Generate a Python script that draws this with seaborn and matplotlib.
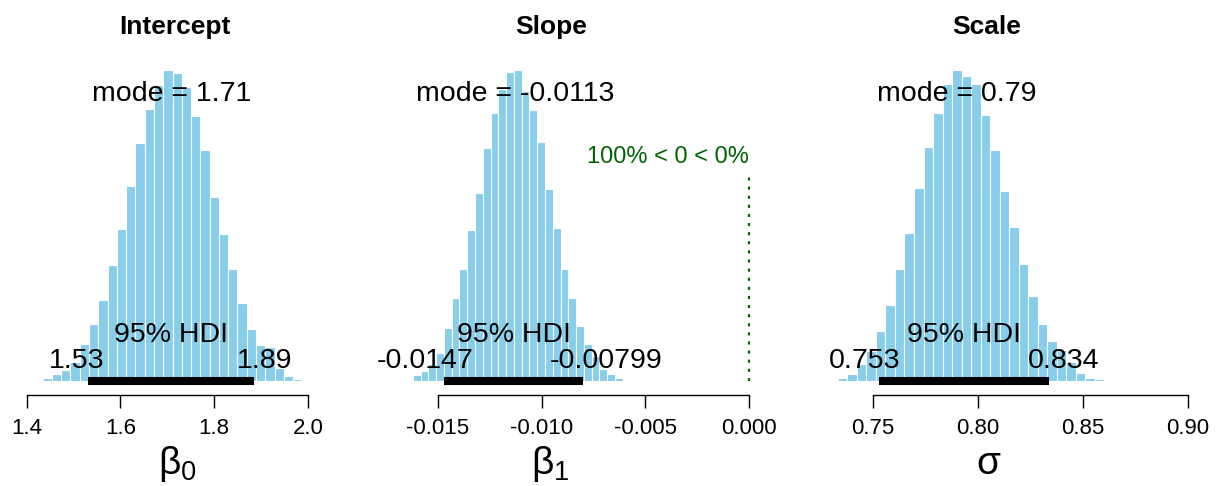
import numpy as np
import pandas as pd
import matplotlib
matplotlib.use("Agg")
import matplotlib.pyplot as plt
import seaborn as sns

# posterior histograms (bin start, bin width, bar heights)
int_start, int_bw = 1.414, 0.0198
int_heights = [1.3, 3.3, 6.7, 11.4, 19, 37.4, 57.4, 81.4, 115.7, 151.7, 194.7, 237.4,
               271.4, 295.7, 310.7, 308, 294, 264.7, 230.7, 184, 146.7, 112.4, 78, 52,
               36, 34, 13, 5, 2]
slope_start, slope_bw = -0.01659, 0.000375
slope_heights = [1, 6, 10, 17, 28, 53.3, 82.7, 111.7, 150.7, 188.3, 232.7, 268.3, 292,
                 308.3, 310.7, 290, 270.7, 239, 192, 153.3, 111.7, 82.7, 55, 36.7, 25,
                 12, 6.7, 2.7]
scale_start, scale_bw = 0.7289, 0.00453
scale_heights = [1, 2.7, 7.3, 17, 30, 50, 75.7, 111.7, 147.3, 192.7, 233.3, 267.7, 296,
                 310, 304, 296, 265, 230, 189, 153.3, 116.7, 84.3, 57, 40, 31, 19, 8,
                 2.5, 1.5]

titles = ["Intercept", "Slope", "Scale"]
xlabels = [r"$\mathregular{β_0}$", r"$\mathregular{β_1}$", "σ"]
modes = ["1.71", "-0.0113", "0.79"]
mode_vals = [1.71, -0.0113, 0.79]
hdi_lo = [1.53, -0.0147, 0.753]
hdi_hi = [1.884, -0.00799, 0.834]
hdi_lo_txt = ["1.53", "-0.0147", "0.753"]
hdi_hi_txt = ["1.89", "-0.00799", "0.834"]
ticks = [[1.4, 1.6, 1.8, 2.0],
         [-0.015, -0.010, -0.005, 0.000],
         [0.75, 0.80, 0.85, 0.90]]
tick_fmt = ["{:.1f}", "{:.3f}", "{:.2f}"]
comp_val = 0.0
comp_txt = "100% < 0 < 0%"

sns.set_style("white")
plt.rcParams["font.family"] = ["Liberation Sans", "DejaVu Sans"]
plt.rcParams["mathtext.fontset"] = "custom"
plt.rcParams["mathtext.rm"] = "Liberation Sans"
plt.rcParams["text.color"] = "black"
plt.rcParams["xtick.color"] = "black"
plt.rcParams["xtick.labelcolor"] = "black"

W, H = 1216, 486
fig = plt.figure(figsize=(W / 100, H / 100), dpi=100)

base_px = 381
# (left px, right px) of each plot region, and tick pixel anchors
regions = [(5, 345), (380, 770), (815, 1205)]
anchors = [(1.4, 26.7, 2.0, 308.0), (-0.015, 438.0, 0.0, 749.0), (0.75, 872.7, 0.90, 1187.7)]
title_x = [175, 551, 987]
label_x = [177, 550, 988]

series = [(int_start, int_bw, int_heights),
          (slope_start, slope_bw, slope_heights),
          (scale_start, scale_bw, scale_heights)]

late = []
for i in range(3):
    start, bw, h = series[i]
    h = np.array(h, dtype=float)
    edges = start + bw * np.arange(len(h) + 1)
    df = pd.DataFrame({"x": (edges[:-1] + edges[1:]) / 2,
                       "w": h / (h.sum() * bw)})
    dmax = df["w"].max()

    l, r = regions[i]
    v0, p0, v1, p1 = anchors[i]
    k = (p1 - p0) / (v1 - v0)
    ax = fig.add_axes([l / W, (H - base_px) / H, (r - l) / W, 342 / H])
    sns.histplot(data=df, x="x", weights="w", bins=list(edges), stat="count", ax=ax,
                 color="#87CEEB", edgecolor="white", linewidth=0.8, alpha=1)
    ax.set_xlim(v0 + (l - p0) / k, v0 + (r - p0) / k)
    ax.set_ylim(0, dmax * 1.1)
    ax.set_ylabel("")
    ax.set_xlabel("")
    for s in ["left", "top", "right"]:
        ax.spines[s].set_visible(False)
    ax.spines["bottom"].set_position(("outward", 14 * 0.72))
    ax.spines["bottom"].set_bounds(ticks[i][0], ticks[i][-1])
    ax.spines["bottom"].set_color("black")
    ax.spines["bottom"].set_linewidth(1.0)
    ax.set_yticks([])
    ax.set_xticks(ticks[i])
    ax.set_xticklabels([tick_fmt[i].format(t) for t in ticks[i]])
    ax.tick_params(axis="x", direction="out", length=9.4, width=1.0, pad=7,
                   labelsize=16, bottom=True, color="black", labelcolor="black")

    # HDI bar
    ax.plot([hdi_lo[i], hdi_hi[i]], [0, 0], color="black", lw=5.8,
            solid_capstyle="butt", clip_on=False, zorder=5)
    ax.text(mode_vals[i], 0.9 * dmax, "mode = " + modes[i], ha="center",
            va="baseline", fontsize=20.5, zorder=6)
    ax.annotate("95% HDI", ((hdi_lo[i] + hdi_hi[i]) / 2, 0), xytext=(0, 39),
                textcoords="offset pixels", ha="center", va="baseline",
                fontsize=20.5, zorder=6)
    t1 = ax.annotate(hdi_lo_txt[i], (hdi_lo[i], 0), xytext=(0, 13),
                     textcoords="offset pixels", ha="left", va="baseline",
                     fontsize=20.5, zorder=6)
    t2 = ax.annotate(hdi_hi_txt[i], (hdi_hi[i], 0), xytext=(0, 13),
                     textcoords="offset pixels", ha="left", va="baseline",
                     fontsize=20.5, zorder=6)
    late.append((t1, 0.7))
    late.append((t2, 0.3))

    if i == 1:
        cv = 0.7 * dmax
        ax.plot([comp_val, comp_val], [0, 0.96 * cv], color="#006400", lw=1.6,
                dashes=(1.4, 2.7), zorder=4)
        ax.text(comp_val, cv, comp_txt, ha="right", va="baseline", fontsize=17,
                color="#006400")

    fig.text(title_x[i] / W, 1 - 27 / H, titles[i], ha="center", va="center",
             fontsize=19, fontweight="bold")
    fig.text(label_x[i] / W, 1 - 464 / H, xlabels[i], ha="center", va="center",
             fontsize=28)

fig.canvas.draw()
for t, frac in late:
    w = t.get_window_extent().width
    t.xyann = (-frac * w, 13)

fig.savefig("out.png", dpi=100)
